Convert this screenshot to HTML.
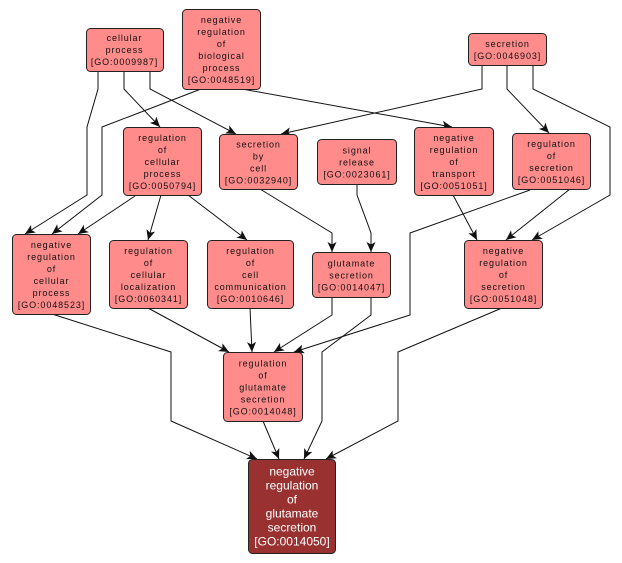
<!DOCTYPE html>
<html><head><meta charset="utf-8"><style>
html,body{margin:0;padding:0;background:#fff;}
svg{display:block;}
.n{fill:#ff8b8b;stroke:#222;stroke-width:1;}
.d{fill:#9a3131;stroke:#222;stroke-width:1;}
.t{font-family:"Liberation Sans",Arial,sans-serif;font-size:9px;letter-spacing:0.9px;fill:#111;text-anchor:middle;}
.w{font-family:"Liberation Sans",Arial,sans-serif;font-size:12px;fill:#fff;text-anchor:middle;}
.e{fill:none;stroke:#111;stroke-width:1;}
</style></head><body>
<svg width="622" height="563" viewBox="0 0 622 563" xmlns="http://www.w3.org/2000/svg">
<defs>
<marker id="a" markerUnits="userSpaceOnUse" markerWidth="12" markerHeight="10" refX="10" refY="5" orient="auto">
<path d="M0,0.5 L10,5 L0,9.5 L2.5,5 z" fill="#111"/>
</marker>
</defs>
<g class="e" marker-end="url(#a)">
<polyline points="98,71 98,89 87,127 87,195 25,234"/>
<polyline points="201,89 102,127 102,195 52,234"/>
<polyline points="135,196 78,234"/>
<polyline points="124,71 124,89 160,127"/>
<polyline points="150,71 150,89 236,134"/>
<polyline points="242,89 452,127"/>
<polyline points="482,65 482,89 281,134"/>
<polyline points="507,65 507,89 549,133"/>
<polyline points="533,65 533,89 610,127 610,195 532,240"/>
<polyline points="570,189 506,240"/>
<polyline points="530,190 410,233 410,315 294,352"/>
<polyline points="371,297 371,315 322,352 322,421 304,459"/>
<polyline points="502,308 398,352 398,421 326,459"/>
<polyline points="52,314 171,352 171,421 257,459"/>
<polyline points="263,421 279,459"/>
<polyline points="161,195 148,240"/>
<polyline points="188,195 247,240"/>
<polyline points="148,308 229,352"/>
<polyline points="250,308 252,352"/>
<polyline points="260,189 332,233 332,252"/>
<polyline points="357,184 357,195 371,233 371,252"/>
<polyline points="453,195 477,240"/>
<polyline points="332,297 332,315 274,352"/>
</g>

<rect class="n" x="86.5" y="28.5" width="77" height="43" rx="4"/>
<text class="t"><tspan x="124.5" y="40.8">cellular</tspan><tspan x="124.5" y="52.8">process</tspan><tspan x="124.5" y="64.8">[GO:0009987]</tspan></text>

<rect class="n" x="182.5" y="9.5" width="78" height="80" rx="4"/>
<text class="t"><tspan x="221.5" y="22.8">negative</tspan><tspan x="221.5" y="34.8">regulation</tspan><tspan x="221.5" y="46.8">of</tspan><tspan x="221.5" y="58.8">biological</tspan><tspan x="221.5" y="70.8">process</tspan><tspan x="221.5" y="82.8">[GO:0048519]</tspan></text>

<rect class="n" x="468.5" y="33.5" width="78" height="32" rx="4"/>
<text class="t"><tspan x="507.5" y="46.8">secretion</tspan><tspan x="507.5" y="58.8">[GO:0046903]</tspan></text>

<rect class="n" x="123.5" y="127.5" width="78" height="68" rx="4"/>
<text class="t"><tspan x="162.5" y="140.8">regulation</tspan><tspan x="162.5" y="152.8">of</tspan><tspan x="162.5" y="164.8">cellular</tspan><tspan x="162.5" y="176.8">process</tspan><tspan x="162.5" y="188.8">[GO:0050794]</tspan></text>

<rect class="n" x="219.5" y="134.5" width="78" height="55" rx="4"/>
<text class="t"><tspan x="258.5" y="147.3">secretion</tspan><tspan x="258.5" y="159.3">by</tspan><tspan x="258.5" y="171.3">cell</tspan><tspan x="258.5" y="183.3">[GO:0032940]</tspan></text>

<rect class="n" x="317.5" y="139.5" width="79" height="45" rx="4"/>
<text class="t"><tspan x="357" y="153.3">signal</tspan><tspan x="357" y="165.3">release</tspan><tspan x="357" y="177.3">[GO:0023061]</tspan></text>

<rect class="n" x="414.5" y="127.5" width="79" height="68" rx="4"/>
<text class="t"><tspan x="454" y="140.8">negative</tspan><tspan x="454" y="152.8">regulation</tspan><tspan x="454" y="164.8">of</tspan><tspan x="454" y="176.8">transport</tspan><tspan x="454" y="188.8">[GO:0051051]</tspan></text>

<rect class="n" x="512.5" y="133.5" width="78" height="56" rx="4"/>
<text class="t"><tspan x="551.5" y="146.8">regulation</tspan><tspan x="551.5" y="158.8">of</tspan><tspan x="551.5" y="170.8">secretion</tspan><tspan x="551.5" y="182.8">[GO:0051046]</tspan></text>

<rect class="n" x="12.5" y="234.5" width="78" height="80" rx="4"/>
<text class="t"><tspan x="51.5" y="247.8">negative</tspan><tspan x="51.5" y="259.8">regulation</tspan><tspan x="51.5" y="271.8">of</tspan><tspan x="51.5" y="283.8">cellular</tspan><tspan x="51.5" y="295.8">process</tspan><tspan x="51.5" y="307.8">[GO:0048523]</tspan></text>

<rect class="n" x="109.5" y="240.5" width="78" height="68" rx="4"/>
<text class="t"><tspan x="148.5" y="253.8">regulation</tspan><tspan x="148.5" y="265.8">of</tspan><tspan x="148.5" y="277.8">cellular</tspan><tspan x="148.5" y="289.8">localization</tspan><tspan x="148.5" y="301.8">[GO:0060341]</tspan></text>

<rect class="n" x="207.5" y="240.5" width="86" height="68" rx="4"/>
<text class="t"><tspan x="250.5" y="253.8">regulation</tspan><tspan x="250.5" y="265.8">of</tspan><tspan x="250.5" y="277.8">cell</tspan><tspan x="250.5" y="289.8">communication</tspan><tspan x="250.5" y="301.8">[GO:0010646]</tspan></text>

<rect class="n" x="312.5" y="252.5" width="78" height="45" rx="4"/>
<text class="t"><tspan x="351.5" y="266.3">glutamate</tspan><tspan x="351.5" y="278.3">secretion</tspan><tspan x="351.5" y="290.3">[GO:0014047]</tspan></text>

<rect class="n" x="464.5" y="240.5" width="78" height="68" rx="4"/>
<text class="t"><tspan x="503.5" y="253.8">negative</tspan><tspan x="503.5" y="265.8">regulation</tspan><tspan x="503.5" y="277.8">of</tspan><tspan x="503.5" y="289.8">secretion</tspan><tspan x="503.5" y="301.8">[GO:0051048]</tspan></text>

<rect class="n" x="223.5" y="352.5" width="79" height="69" rx="4"/>
<text class="t"><tspan x="263" y="366.3">regulation</tspan><tspan x="263" y="378.3">of</tspan><tspan x="263" y="390.3">glutamate</tspan><tspan x="263" y="402.3">secretion</tspan><tspan x="263" y="414.3">[GO:0014048]</tspan></text>

<rect class="d" x="248.5" y="459.5" width="87" height="94" rx="4"/>
<text class="w"><tspan x="292" y="475.5">negative</tspan><tspan x="292" y="489.5">regulation</tspan><tspan x="292" y="503.5">of</tspan><tspan x="292" y="517.5">glutamate</tspan><tspan x="292" y="531.5">secretion</tspan><tspan x="292" y="545.5">[GO:0014050]</tspan></text>
</svg>
</body></html>
